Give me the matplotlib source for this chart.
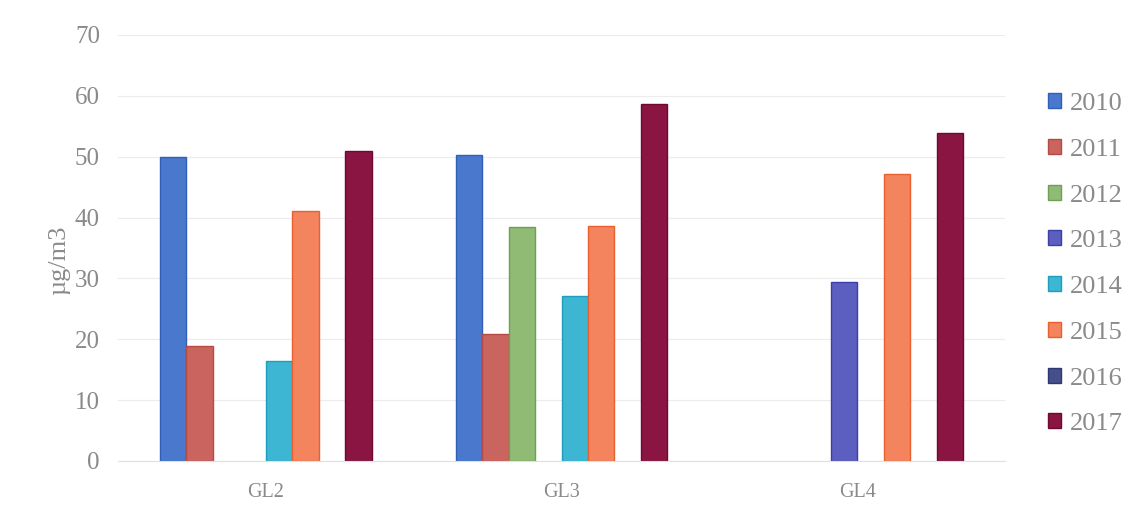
import numpy as np
import matplotlib.pyplot as plt

# Sites and years
sites = ["GL2", "GL3", "GL4"]
years = ["2010", "2011", "2012", "2013", "2014", "2015", "2016", "2017"]

# Concentrations (µg/m3), NaN = no measurement
y2010 = [50.0, 50.3, np.nan]
y2011 = [18.9, 20.9, np.nan]
y2012 = [np.nan, 38.4, np.nan]
y2013 = [np.nan, np.nan, 29.4]
y2014 = [16.4, 27.1, np.nan]
y2015 = [41.1, 38.6, 47.2]
y2016 = [np.nan, np.nan, np.nan]
y2017 = [50.9, 58.7, 53.9]
series = [y2010, y2011, y2012, y2013, y2014, y2015, y2016, y2017]

colors = ["#4a78cc", "#c9645e", "#8fbb74", "#5c5fbf",
          "#3cb6d2", "#f4845e", "#454f8c", "#8a1442"]
edges = ["#2f5fb8", "#b84a45", "#6f9f55", "#3c3fa8",
         "#1f9dbd", "#e8602f", "#2f3870", "#6e0a30"]

plt.rcParams['font.family'] = ['Liberation Serif', 'DejaVu Serif']
txt = "#8a8a8a"

fig = plt.figure(figsize=(11.39, 5.16), dpi=100)
ax = fig.add_axes([0.1036, 0.1066, 0.7788, 0.8256])

x = np.arange(len(sites))
w = 0.0895
for i, (vals, c, ec) in enumerate(zip(series, colors, edges)):
    ax.bar(x + (i - 3.5) * w, vals, width=w, color=c, edgecolor=ec,
           linewidth=1.0, label=years[i])

ax.set_xlim(-0.5, 2.5)
ax.set_ylim(0, 70)
ax.set_yticks(range(0, 71, 10))
ax.set_xticks(x)
ax.set_xticklabels(sites)
ax.tick_params(axis='y', length=0, labelsize=18, labelcolor=txt, pad=13)
ax.tick_params(axis='x', length=0, labelsize=14.5, labelcolor=txt, pad=16)
ax.grid(axis='y', color="#ececec", linewidth=0.8)
ax.set_axisbelow(True)
for s in ["top", "right", "left"]:
    ax.spines[s].set_visible(False)
ax.spines["bottom"].set_color("#e0e0e0")
ax.set_ylabel("µg/m3", fontsize=19, color=txt)
ax.yaxis.set_label_coords(-0.054, 0.472)

leg = ax.legend(loc="center left", bbox_to_anchor=(0.899, 0.488),
                bbox_transform=fig.transFigure, frameon=False,
                fontsize=19, labelcolor=txt, handlelength=0.5,
                handleheight=0.5, handletextpad=0.35, labelspacing=0.9)

fig.savefig("out.png", dpi=100)
